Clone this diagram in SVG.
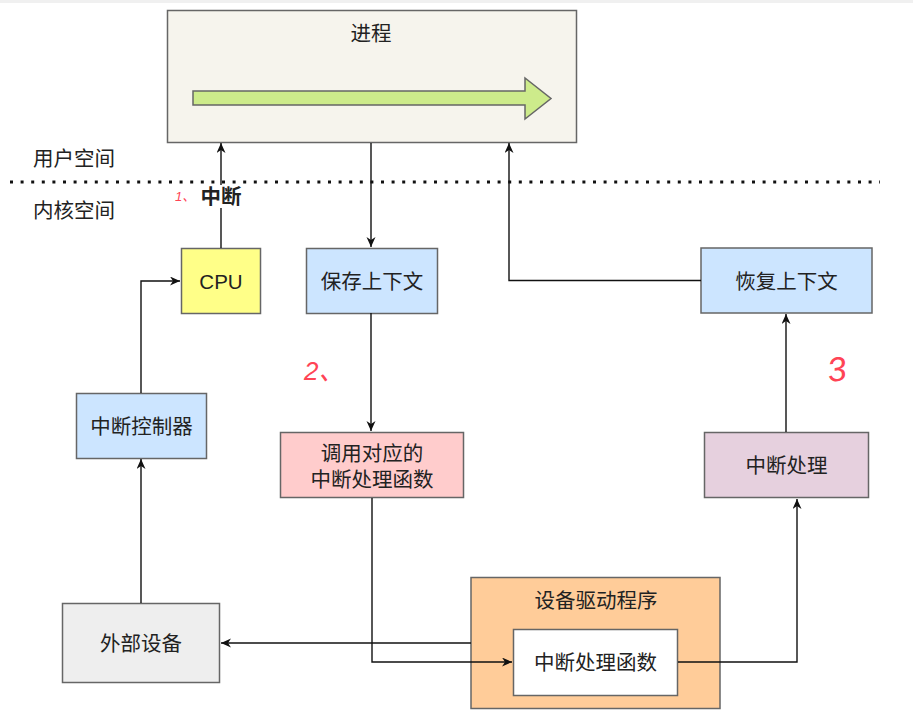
<svg xmlns="http://www.w3.org/2000/svg" width="913" height="726" viewBox="0 0 913 726">
<style>
.box{stroke:#666;stroke-width:1.5}
.t{font-family:"Liberation Sans","Noto Sans CJK SC",sans-serif;font-size:20.5px;fill:#222;text-anchor:middle;dominant-baseline:central}
.lbl{font-family:"Noto Sans CJK SC","Liberation Sans",sans-serif;font-size:20.5px;fill:#222;dominant-baseline:central}
.ca{fill:none;stroke:#111;stroke-width:1.4;marker-end:url(#arr)}
.red{font-family:"Liberation Sans","Noto Sans CJK SC",sans-serif;fill:#f45;font-style:italic}
</style>
<defs>
<marker id="arr" markerUnits="userSpaceOnUse" markerWidth="11" markerHeight="10" refX="10" refY="4.5" orient="auto" viewBox="0 0 11 10">
<path d="M0,0 L10,4.5 L0,9 L3,4.5 z" fill="#111"/>
</marker>
</defs>
<rect x="0" y="0" width="913" height="726" fill="#fff"/>
<rect x="0" y="0" width="913" height="3" fill="#f0f0f0"/>

<g id="zones">
<line x1="10" y1="182" x2="880" y2="182" stroke="#111" stroke-width="3" stroke-dasharray="3 7.6"/>
<text class="lbl" x="33" y="157">用户空间</text>
<text class="lbl" x="33" y="209">内核空间</text>
</g>

<g id="process">
<rect class="box" x="167.5" y="10.5" width="409" height="132" fill="#f6f4ed"/>
<text class="t" x="371" y="33">进程</text>
<polygon points="193,91 525,91 525,78 551,98.5 525,119 525,105 193,105" fill="#cdeb8b" stroke="#666" stroke-width="1.5"/>
</g>

<g id="cpu">
<rect class="box" x="181.5" y="248.5" width="79" height="65" fill="#ffff88"/>
<text class="t" x="221" y="281">CPU</text>
</g>
<g id="save-context">
<rect class="box" x="306.5" y="248.5" width="131" height="65" fill="#cce5ff"/>
<text class="t" x="372" y="281">保存上下文</text>
</g>
<g id="restore-context">
<rect class="box" x="701" y="248" width="171" height="65" fill="#cce5ff"/>
<text class="t" x="786.5" y="281">恢复上下文</text>
</g>
<g id="interrupt-controller">
<rect class="box" x="76.5" y="393.5" width="130" height="65" fill="#cce5ff"/>
<text class="t" x="141.5" y="426">中断控制器</text>
</g>
<g id="call-handler">
<rect class="box" x="280.5" y="432.5" width="183" height="65" fill="#ffcccc"/>
<text class="t" x="372" y="453">调用对应的</text>
<text class="t" x="372" y="479">中断处理函数</text>
</g>
<g id="interrupt-handling">
<rect class="box" x="704.5" y="432.5" width="164" height="65" fill="#e6d0de"/>
<text class="t" x="786.5" y="465">中断处理</text>
</g>
<g id="external-device">
<rect class="box" x="62.5" y="603.5" width="157" height="79" fill="#eeeeee"/>
<text class="t" x="141" y="643">外部设备</text>
</g>
<g id="device-driver">
<rect class="box" x="471" y="577.5" width="249" height="131" fill="#ffcc99"/>
<text class="t" x="596" y="600">设备驱动程序</text>
</g>
<g id="isr">
<rect class="box" x="513.5" y="629.5" width="164" height="66" fill="#ffffff"/>
<text class="t" x="595.5" y="662">中断处理函数</text>
</g>

<g id="connectors">
<path class="ca" d="M221,248 V143"/>
<path class="ca" d="M371,143 V247"/>
<path class="ca" d="M701,280.5 H509 V143"/>
<path class="ca" d="M141,393 V281 H180"/>
<path class="ca" d="M371,313 V431"/>
<path class="ca" d="M786,432 V314"/>
<path class="ca" d="M141,603 V459"/>
<path class="ca" d="M372,498 V662 H512"/>
<path class="ca" d="M471,643 H221"/>
<path class="ca" d="M678,662 H797 V499"/>
<rect x="198" y="185" width="46" height="23" fill="#fff"/>
<text class="t" x="221" y="196" style="font-weight:bold">中断</text>
</g>

<g id="annotations">
<text class="red" x="175" y="201" font-size="13">1、</text>
<text class="red" x="304" y="380" font-size="26">2、</text>
<text class="red" x="827" y="381" font-size="34" transform="rotate(-8 836 368)">3</text>
</g>
</svg>
